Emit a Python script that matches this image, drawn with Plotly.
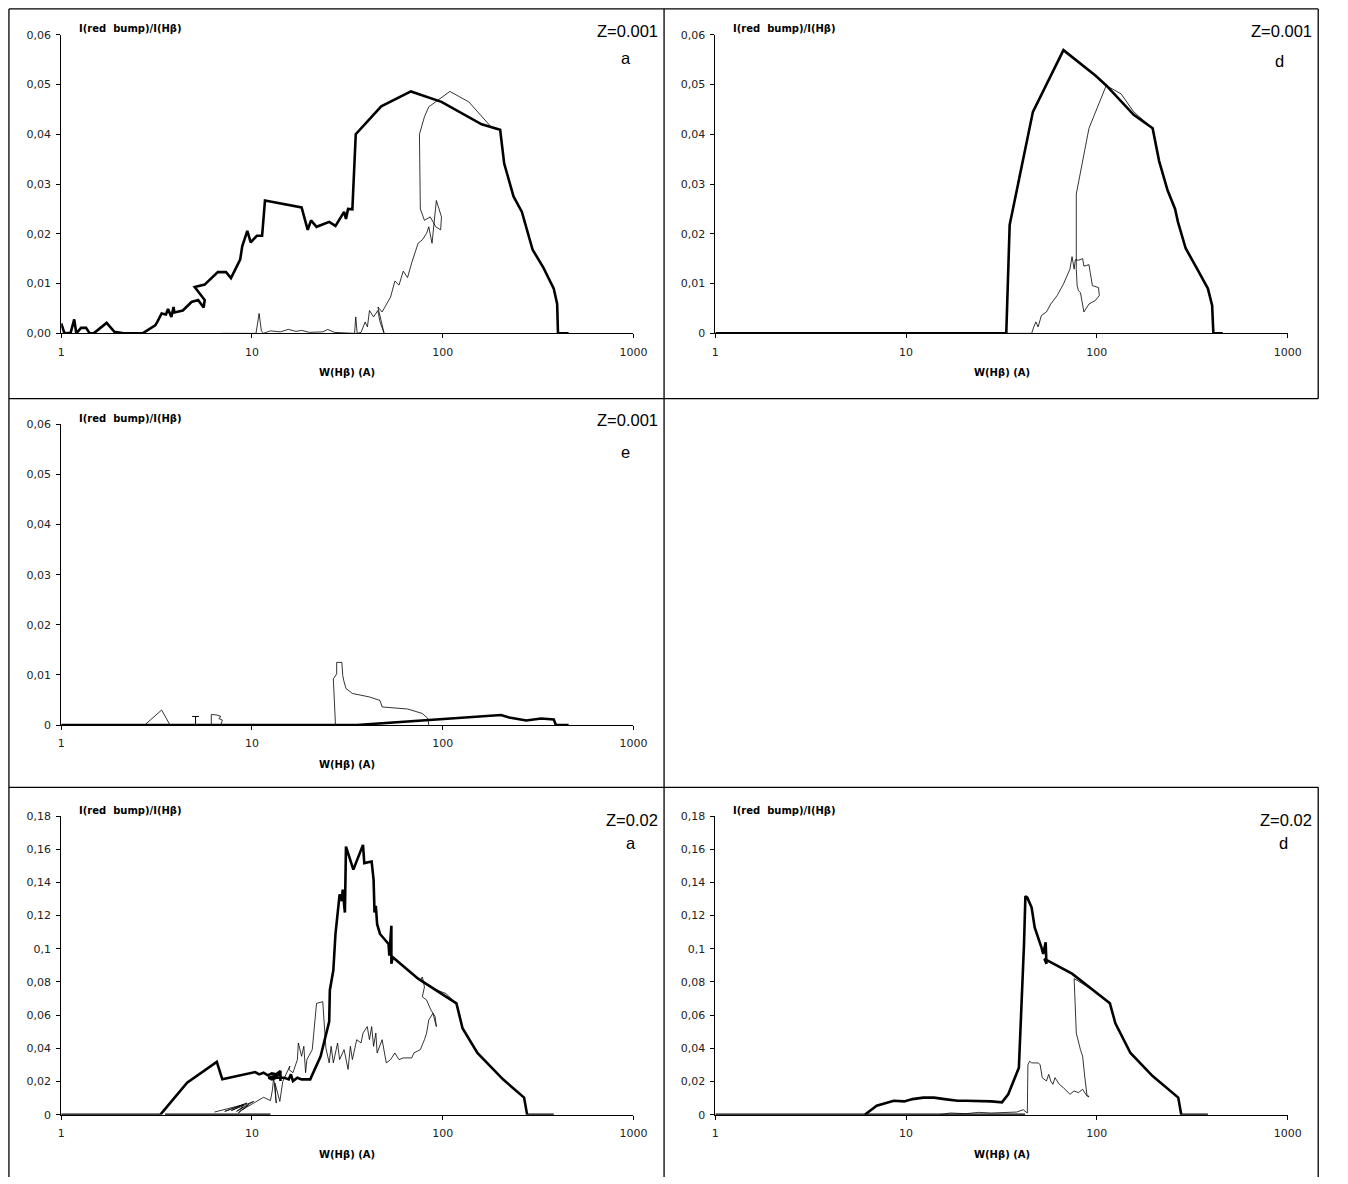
import plotly.graph_objects as go

# ---------------- data ----------------
# Panel "a", Z=0.001
a1_thick_w = [1, 1.04, 1.12, 1.17, 1.20, 1.27, 1.35, 1.41, 1.48, 1.73, 1.90, 2.12, 2.67, 2.96, 3.11,
              3.19, 3.36, 3.54, 3.63, 3.78, 3.88, 3.92, 4.34, 4.82, 5.22, 5.58, 5.65, 5.01, 5.65, 6.62,
              7.31, 7.76, 8.67, 8.89, 9.45, 9.85, 10.6, 11.3, 11.7, 18.2, 19.1, 19.6, 20.4, 21.8, 25.4,
              27.4, 30.4, 31.1, 31.9, 33.6, 35.0, 47.6, 68.1, 98.5, 160, 200, 210, 235, 260, 296,
              337, 382, 398, 402, 457]
a1_thick_r = [0.0020, 0, 0.0001, 0.0028, 0, 0.0011, 0.0011, 0, 0, 0.0021, 0.0003, 0, 0, 0.0010, 0.0016,
              0.0023, 0.0040, 0.0038, 0.0049, 0.0033, 0.0053, 0.0042, 0.0046, 0.0063, 0.0067, 0.0052, 0.0067, 0.0093, 0.0098, 0.0123,
              0.0123, 0.0111, 0.0148, 0.0175, 0.0206, 0.0183, 0.0196, 0.0196, 0.0267, 0.0253, 0.0227, 0.0208, 0.0227, 0.0214, 0.0224,
              0.0216, 0.0244, 0.0230, 0.0250, 0.0249, 0.0400, 0.0456, 0.0486, 0.0465, 0.0420, 0.0409, 0.0341, 0.0275, 0.0244, 0.0168,
              0.0132, 0.0090, 0.0059, 0, 0]
a1_thin_w = [6.88, 10.5, 10.9, 11.2, 11.5, 12.5, 14.1, 15.5, 17.0, 18.2, 20.0, 23.5, 25.0, 27.0, 30.4,
             34.5, 35.0, 35.6, 37.3, 39.2, 40.3, 41.3, 43.4, 45.7, 46.9, 48.1, 49.3, 45.7, 48.1, 53.3,
             56.1, 59.0, 62.1, 65.4, 68.8, 74.3, 78.2, 82.3, 84.5, 87.9, 89.8, 92.6, 98.5, 97.5, 92.0,
             86.0, 80.2, 78.2, 76.3, 75.5, 80.2, 84.5, 109, 137, 182, 200]
a1_thin_r = [0, 0, 0.0040, 0.0005, 0, 0.0005, 0.0003, 0.0008, 0.0004, 0.0006, 0.0002, 0.0003, 0.0008, 0.0002, 0.0001,
             0, 0.0033, 0, 0.0002, 0.0023, 0.0013, 0.0046, 0.0033, 0.0046, 0.0023, 0.0010, 0, 0.0053, 0.0043, 0.0073,
             0.0105, 0.0097, 0.0125, 0.0112, 0.0142, 0.0181, 0.0188, 0.0201, 0.0214, 0.0181, 0.0220, 0.0267, 0.0234, 0.0208, 0.0214,
             0.0234, 0.0227, 0.0240, 0.0250, 0.0400, 0.0435, 0.0455, 0.0486, 0.0465, 0.0412, 0.0409]

# Panel "d", Z=0.001
d1_thick_w = [1, 33.5, 34.9, 46.2, 66.8, 98.2, 112, 156, 196, 212, 235, 257, 266, 292, 336, 382, 402, 408, 457]
d1_thick_r = [0, 0, 0.0218, 0.0445, 0.0569, 0.0518, 0.0498, 0.0439, 0.0412, 0.0346, 0.0287, 0.0250, 0.0224,
              0.0171, 0.0129, 0.0090, 0.0056, 0, 0]
d1_thin_w = [1, 45.5, 46.7, 47.9, 49.2, 51.2, 54.4, 57.3, 61.9, 66.8, 72.2, 74.1, 76.0, 77.1, 80.0,
             84.2, 85.5, 90.9, 92.3, 94.7, 102, 103, 98.2, 90.9, 85.5, 82.0, 80.0, 78.8, 78.0, 78.0,
             90.9, 112, 134, 156, 196]
d1_thin_r = [0, 0, 0.0013, 0.0023, 0.0013, 0.0036, 0.0043, 0.0059, 0.0076, 0.0099, 0.0129, 0.0154, 0.0129, 0.0148, 0.0147,
             0.0150, 0.0135, 0.0138, 0.0122, 0.0096, 0.0092, 0.0076, 0.0066, 0.0059, 0.0043, 0.0082, 0.0086, 0.0096, 0.0129, 0.0280,
             0.0412, 0.0498, 0.0481, 0.0445, 0.0412]

# Panel "e", Z=0.001
e1_thick_w = [1, 35.4, 202, 223, 274, 328, 382, 392, 457]
e1_thick_r = [0, 0, 0.0020, 0.0015, 0.0009, 0.0013, 0.0011, 0, 0]
e1_thin_w = [1, 2.74, 3.36, 3.72, 5.06, 5.06, 4.86, 5.27, 5.06, 5.06, 6.12, 6.12, 6.54, 6.88, 6.70,
             6.99, 6.88, 27.4, 26.7, 27.8, 27.8, 29.6, 29.9, 30.4, 31.1, 33.6, 37.3, 41.3, 46.9, 48.1,
             65.4, 74.3, 78.2, 83.6, 84.5]
e1_thin_r = [0, 0, 0.0030, 0, 0, 0.0017, 0.0017, 0.0017, 0.0017, 0, 0, 0.0021, 0.0020, 0.0017, 0.0013,
             0.0010, 0, 0, 0.0092, 0.0102, 0.0125, 0.0125, 0.0099, 0.0086, 0.0073, 0.0063, 0.0059, 0.0056, 0.0049, 0.0036,
             0.0032, 0.0026, 0.0023, 0.0013, 0]

# Panel "a", Z=0.02
a2_thick_w = [1, 3.31, 4.57, 6.54, 6.99, 9.85, 10.4, 10.9, 11.5, 12.1, 12.7, 13.4, 14.1, 14.1, 14.1,
              12.2, 12.7, 13.4, 14.8, 15.6, 16.0, 16.4, 17.3, 18.2, 20.2, 22.9, 25.4, 25.6, 26.7, 27.4,
              28.8, 29.6, 29.9, 30.7, 31.1, 34.0, 38.2, 38.8, 42.4, 43.4, 43.9, 44.6, 45.3, 46.9, 52.0,
              52.5, 53.8, 53.8, 54.7, 74.3, 115, 118, 127, 152, 207, 267, 277, 382]
a2_thick_r = [0, 0, 0.0193, 0.0318, 0.0213, 0.0253, 0.0257, 0.0243, 0.0253, 0.0237, 0.0249, 0.0243, 0.0263, 0.0203, 0.0243,
              0.0223, 0.0213, 0.0223, 0.0223, 0.0213, 0.0243, 0.0203, 0.0223, 0.0213, 0.0213, 0.0352, 0.0561, 0.0750, 0.0870, 0.1089,
              0.1327, 0.1288, 0.1357, 0.1218, 0.1616, 0.1477, 0.1626, 0.1516, 0.1526, 0.1417, 0.1218, 0.1258, 0.1148, 0.1089, 0.1029,
              0.0959, 0.1138, 0.0909, 0.0949, 0.0820, 0.0681, 0.0671, 0.0521, 0.0372, 0.0213, 0.0103, 0, 0]
a2_thick2_w = [3.5, 12.5]
a2_thick2_r = [0, 0]
a2_thin_w = [6.36, 9.0, 7.2, 9.4, 7.8, 10.2, 8.3, 9.0, 8.5, 9.6, 8.9, 11.5, 12.5, 12.8, 13.0,
             13.4, 13.2, 14.0, 14.5, 15.8, 15.6, 16.4, 17.3, 17.5, 18.2, 18.7, 19.1, 19.4, 20.2, 20.7,
             21.8, 23.5, 24.4, 25.4, 26.0, 26.7, 28.1, 28.8, 30.4, 31.9, 32.8, 33.6, 35.4, 37.3, 38.2,
             40.2, 41.3, 42.4, 43.4, 44.6, 45.3, 46.9, 48.1, 50.6, 53.3, 56.1, 59.0, 62.1, 68.8, 70.6,
             76.3, 80.2, 82.3, 84.5, 88.9, 92.6, 91.2, 86.7, 82.3, 78.2, 80.2, 78.2, 76.3, 88.9, 104,
             115]
a2_thin_r = [0.0016, 0.0060, 0.0020, 0.0070, 0.0025, 0.0080, 0.0020, 0.0050, 0.0010, 0.0060, 0.0030, 0.0105, 0.0085, 0.0150, 0.0225,
             0.0070, 0.0190, 0.0080, 0.0200, 0.0293, 0.0273, 0.0253, 0.0332, 0.0432, 0.0352, 0.0412, 0.0253, 0.0332, 0.0372, 0.0392,
             0.0671, 0.0681, 0.0402, 0.0312, 0.0412, 0.0312, 0.0432, 0.0332, 0.0392, 0.0273, 0.0412, 0.0332, 0.0452, 0.0432, 0.0492,
             0.0531, 0.0452, 0.0531, 0.0412, 0.0492, 0.0372, 0.0412, 0.0452, 0.0312, 0.0332, 0.0372, 0.0332, 0.0342, 0.0342, 0.0372,
             0.0392, 0.0452, 0.0492, 0.0571, 0.0611, 0.0531, 0.0591, 0.0631, 0.0691, 0.0710, 0.0770, 0.0830, 0.0810, 0.0760, 0.0730,
             0.0681]

# Panel "d", Z=0.02
d2_thick_w = [1, 6.07, 7.01, 8.61, 9.78, 10.8, 12.3, 14.0, 15.9, 18.6, 20.6, 25.2, 28.0, 31.8, 34.3,
              39.0, 40.5, 41.5, 42.2, 43.2, 45.5, 47.2, 51.2, 52.3, 53.9, 54.4, 53.1, 74.1, 117, 125,
              150, 196, 267, 277, 382]
d2_thick_r = [0, 0, 0.0054, 0.0084, 0.0080, 0.0094, 0.0103, 0.0103, 0.0094, 0.0084, 0.0084, 0.0084, 0.0080, 0.0074, 0.0123,
              0.0283, 0.0710, 0.1029, 0.1317, 0.1308, 0.1248, 0.1128, 0.1009, 0.0969, 0.1039, 0.0909, 0.0939, 0.0850, 0.0671, 0.0551,
              0.0372, 0.0233, 0.0103, 0, 0]
d2_thick2_w = [6.07, 42.0]
d2_thick2_r = [0, 0]
d2_thin_w = [15.1, 17, 20.6, 24, 28.0, 34.3, 38, 41.1, 43.2, 43.5, 44.4, 45.5, 49.2, 50.4, 51.7,
             54.4, 55.9, 57.3, 58.8, 60.3, 63.5, 66.8, 72.2, 76.0, 80.0, 84.2, 86.3, 88.6, 90.9, 88.6,
             86.3, 84.2, 82.0, 78.0, 76.0, 95.7, 117]
d2_thin_r = [0, 0.0010, 0.0006, 0.0014, 0.0010, 0.0014, 0.0016, 0.0030, 0.0010, 0.0300, 0.0322, 0.0312, 0.0312, 0.0302, 0.0223,
             0.0203, 0.0243, 0.0203, 0.0183, 0.0223, 0.0183, 0.0163, 0.0123, 0.0143, 0.0133, 0.0153, 0.0133, 0.0113, 0.0107, 0.0123,
             0.0233, 0.0352, 0.0392, 0.0492, 0.0820, 0.0750, 0.0671]

# tick labels
x_tickvals = [1, 10, 100, 1000]
x_ticktext = ["1", "10", "100", "1000"]
y_tickvals_low = [0, 0.01, 0.02, 0.03, 0.04, 0.05, 0.06]
y_ticktext_a1 = ["0,00", "0,01", "0,02", "0,03", "0,04", "0,05", "0,06"]
y_ticktext_low = ["0", "0,01", "0,02", "0,03", "0,04", "0,05", "0,06"]
y_tickvals_high = [0, 0.02, 0.04, 0.06, 0.08, 0.10, 0.12, 0.14, 0.16, 0.18]
y_ticktext_high = ["0", "0,02", "0,04", "0,06", "0,08", "0,1", "0,12", "0,14", "0,16", "0,18"]

y_title = "I(red\u00a0 bump)/I(H\u03b2)"
x_title = "W(H\u03b2) (A)"

# ---------------- layout helpers ----------------
FW, FH = 1348, 1184
def px(x):
    return x / FW
def py(y):
    return 1 - y / FH

TICKFONT = "DejaVu Sans, Verdana, sans-serif"
LABELFONT = "Liberation Sans, Arial, sans-serif"

panels = [
    dict(x0=58, x1=638, yt=29, yb=331, yr=[0, 0.06], tv=y_tickvals_low, tt=y_ticktext_a1,
         z="Z=0.001", zx=665, zy=25, let="a", lx=630, ly=53,
         thick=[(a1_thick_w, a1_thick_r)], thin=[(a1_thin_w, a1_thin_r)]),
    dict(x0=721, x1=1301, yt=29, yb=331, yr=[0, 0.06], tv=y_tickvals_low, tt=y_ticktext_low,
         z="Z=0.001", zx=1328, zy=25, let="d", lx=1293, ly=56,
         thick=[(d1_thick_w, d1_thick_r)], thin=[(d1_thin_w, d1_thin_r)]),
    dict(x0=58, x1=638, yt=423, yb=727, yr=[0, 0.06], tv=y_tickvals_low, tt=y_ticktext_low,
         z="Z=0.001", zx=665, zy=419, let="e", lx=630, ly=451,
         thick=[(e1_thick_w, e1_thick_r)], thin=[(e1_thin_w, e1_thin_r)]),
    dict(x0=58, x1=638, yt=819, yb=1121, yr=[0, 0.18], tv=y_tickvals_high, tt=y_ticktext_high,
         z="Z=0.02", zx=665, zy=823, let="a", lx=635, ly=846,
         thick=[(a2_thick_w, a2_thick_r), (a2_thick2_w, a2_thick2_r)], thin=[(a2_thin_w, a2_thin_r)]),
    dict(x0=721, x1=1301, yt=819, yb=1121, yr=[0, 0.18], tv=y_tickvals_high, tt=y_ticktext_high,
         z="Z=0.02", zx=1328, zy=823, let="d", lx=1297, ly=846,
         thick=[(d2_thick_w, d2_thick_r), (d2_thick2_w, d2_thick2_r)], thin=[(d2_thin_w, d2_thin_r)]),
]

fig = go.Figure()
annotations = []
layout_axes = {}

for i, p in enumerate(panels, start=1):
    sx = "" if i == 1 else str(i)
    xa, ya = "x" + sx, "y" + sx
    for (w, r) in p["thin"]:
        fig.add_trace(go.Scatter(x=w, y=r, mode="lines", xaxis=xa, yaxis=ya,
                                 line=dict(color="black", width=0.8), showlegend=False,
                                 hoverinfo="skip"))
    for (w, r) in p["thick"]:
        fig.add_trace(go.Scatter(x=w, y=r, mode="lines", xaxis=xa, yaxis=ya,
                                 line=dict(color="black", width=2.6), showlegend=False,
                                 hoverinfo="skip"))
    layout_axes["xaxis" + sx] = dict(
        type="log", range=[0, 3], domain=[px(p["x0"]), px(p["x1"])], anchor=ya,
        showline=True, linecolor="black", linewidth=1, showgrid=False, zeroline=False,
        ticks="outside", ticklen=4, tickcolor="black", tickwidth=1,
        tickvals=x_tickvals, ticktext=x_ticktext, ticklabelstandoff=4,
        tickfont=dict(family=TICKFONT, size=11, color="#222"), fixedrange=True)
    layout_axes["yaxis" + sx] = dict(
        range=p["yr"], domain=[py(p["yb"]), py(p["yt"])], anchor=xa,
        showline=True, linecolor="black", linewidth=1, showgrid=False, zeroline=False,
        ticks="outside", ticklen=4, tickcolor="black", tickwidth=1,
        tickvals=p["tv"], ticktext=p["tt"], ticklabelstandoff=3,
        tickfont=dict(family=TICKFONT, size=11, color="#222"), fixedrange=True)
    # y title (top-left, inside)
    annotations.append(dict(text="<b>" + y_title + "</b>", xref="paper", yref="paper",
                            x=px(p["x0"] + 16), y=py(p["yt"] - 6), xanchor="left", yanchor="middle",
                            showarrow=False, font=dict(family=TICKFONT, size=10, color="black")))
    # x title
    annotations.append(dict(text="<b>" + x_title + "</b>", xref="paper", yref="paper",
                            x=px((p["x0"] + p["x1"]) / 2), y=py(p["yb"] + 40), xanchor="center",
                            yanchor="middle", showarrow=False,
                            font=dict(family=TICKFONT, size=10, color="black")))
    # Z label and panel letter
    annotations.append(dict(text=p["z"], xref="paper", yref="paper", x=px(p["zx"]), y=py(p["zy"]),
                            xanchor="right", yanchor="middle", showarrow=False,
                            font=dict(family=LABELFONT, size=16.5, color="black")))
    annotations.append(dict(text=p["let"], xref="paper", yref="paper", x=px(p["lx"]), y=py(p["ly"]),
                            xanchor="center", yanchor="middle", showarrow=False,
                            font=dict(family=LABELFONT, size=16.5, color="black")))

# panel borders
def hline(y, xa, xb):
    return dict(type="line", xref="paper", yref="paper", x0=px(xa), x1=px(xb), y0=py(y), y1=py(y),
                line=dict(color="black", width=1.3))
def vline(x, ya, yb):
    return dict(type="line", xref="paper", yref="paper", x0=px(x), x1=px(x), y0=py(ya), y1=max(py(yb), 0),
                line=dict(color="black", width=1.3))

shapes = [
    hline(3, 5, 1332), hline(397, 5, 1332), hline(790, 5, 1332),
    vline(5, 3, 1184), vline(669, 3, 1184),
    vline(1332, 3, 397), vline(1332, 790, 1184),
]

fig.update_layout(
    width=FW, height=FH, margin=dict(l=0, r=0, t=0, b=0),
    paper_bgcolor="white", plot_bgcolor="white",
    showlegend=False, annotations=annotations, shapes=shapes,
    font=dict(family=TICKFONT),
    **layout_axes,
)

fig.write_html("out.html", config={"displayModeBar": False},
               post_script="document.body.style.margin='0px';document.body.style.overflow='hidden';")
